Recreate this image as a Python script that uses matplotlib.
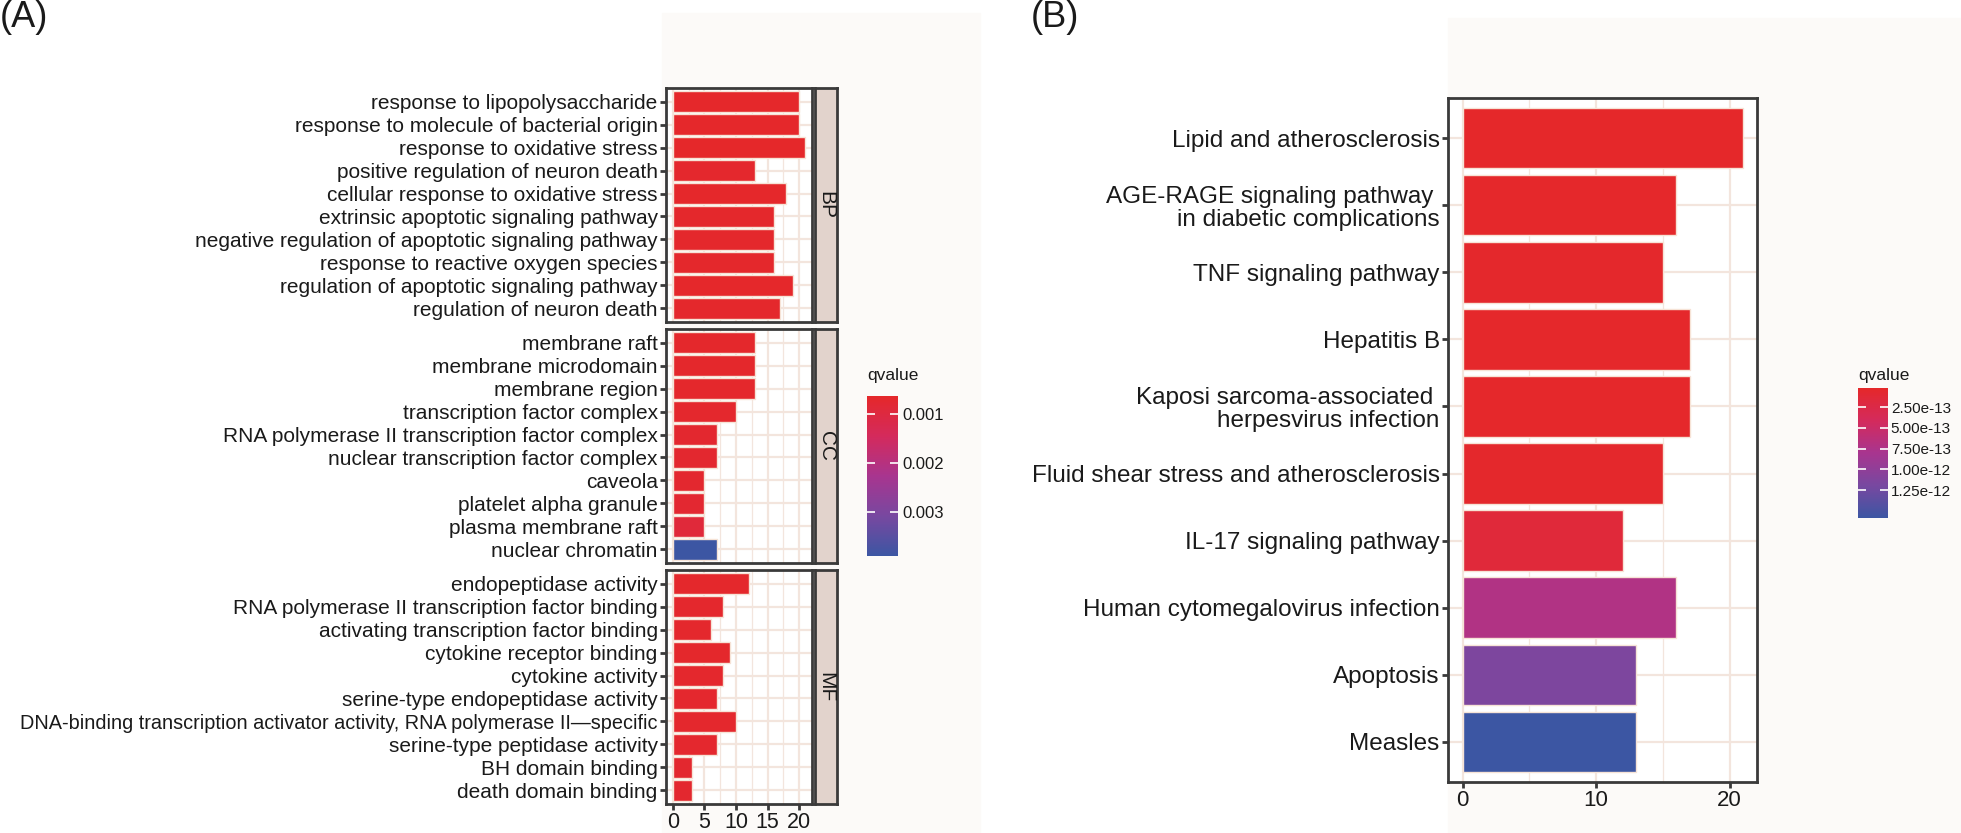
import numpy as np
import matplotlib.pyplot as plt
from matplotlib.colors import LinearSegmentedColormap, Normalize
from matplotlib.cm import ScalarMappable
from matplotlib.patches import Rectangle
from matplotlib.ticker import MultipleLocator

plt.rcParams['font.family'] = ['Liberation Sans', 'DejaVu Sans']

# ---- panel A: GO enrichment ----
bp_terms = ["response to lipopolysaccharide", "response to molecule of bacterial origin",
            "response to oxidative stress", "positive regulation of neuron death",
            "cellular response to oxidative stress", "extrinsic apoptotic signaling pathway",
            "negative regulation of apoptotic signaling pathway", "response to reactive oxygen species",
            "regulation of apoptotic signaling pathway", "regulation of neuron death"]
bp_counts = [20, 20, 21, 13, 18, 16, 16, 16, 19, 17]
bp_q = [0.00066, 0.00066, 0.00065, 0.00070, 0.00066, 0.00068, 0.00068, 0.00068, 0.00066, 0.00067]

cc_terms = ["membrane raft", "membrane microdomain", "membrane region",
            "transcription factor complex", "RNA polymerase II transcription factor complex",
            "nuclear transcription factor complex", "caveola", "platelet alpha granule",
            "plasma membrane raft", "nuclear chromatin"]
cc_counts = [13, 13, 13, 10, 7, 7, 5, 5, 5, 7]
cc_q = [0.00068, 0.00068, 0.00068, 0.00070, 0.00072, 0.00072, 0.00074, 0.00076, 0.00090, 0.00390]

mf_terms = ["endopeptidase activity", "RNA polymerase II transcription factor binding",
            "activating transcription factor binding", "cytokine receptor binding",
            "cytokine activity", "serine-type endopeptidase activity",
            "DNA-binding transcription activator activity, RNA polymerase II\u2014specific",
            "serine-type peptidase activity", "BH domain binding", "death domain binding"]
mf_counts = [12, 8, 6, 9, 8, 7, 10, 7, 3, 3]
mf_q = [0.00068, 0.00070, 0.00070, 0.00069, 0.00070, 0.00071, 0.00070, 0.00071, 0.00074, 0.00074]

facets = ["BP", "CC", "MF"]
qa_min, qa_max = 0.00064, 0.0039
qa_ticks = [0.001, 0.002, 0.003]

# ---- panel B: KEGG enrichment ----
kegg_terms = ["Lipid and atherosclerosis", "AGE-RAGE signaling pathway \nin diabetic complications",
              "TNF signaling pathway", "Hepatitis B",
              "Kaposi sarcoma-associated \nherpesvirus infection",
              "Fluid shear stress and atherosclerosis", "IL-17 signaling pathway",
              "Human cytomegalovirus infection", "Apoptosis", "Measles"]
kegg_counts = [21, 16, 15, 17, 17, 15, 12, 16, 13, 13]
kegg_q = [2e-14, 3e-14, 4e-14, 3e-14, 3e-14, 4e-14, 1.45e-13, 7.2e-13, 1.15e-12, 1.585e-12]
qb_min, qb_max = 2e-14, 1.585e-12
qb_ticks = [2.5e-13, 5.0e-13, 7.5e-13, 1.0e-12, 1.25e-12]
qb_labels = ["2.50e-13", "5.00e-13", "7.50e-13", "1.00e-12", "1.25e-12"]

cmap = LinearSegmentedColormap.from_list(
    "qv", ["#E5282A", "#D42A5C", "#A8358F", "#7848A0", "#3C56A3"])

fw, fh = 1961, 833
fig = plt.figure(figsize=(fw / 100, fh / 100), dpi=100)


def box(l, t, r, b):
    return [l / fw, 1 - b / fh, (r - l) / fw, (b - t) / fh]


# faint backdrops
fig.patches.append(Rectangle((662 / fw, 1 - 833 / fh), 318 / fw, 820 / fh,
                             transform=fig.transFigure, color="#FCFAF8", zorder=-5))
fig.patches.append(Rectangle((1448 / fw, 1 - 833 / fh), 513 / fw, 815 / fh,
                             transform=fig.transFigure, color="#FCFAF8", zorder=-5))

grid_col = "#F3E5DD"
spine_col = "#3a3a3a"
edge_col = "#F6E3D6"


def style_axes(ax):
    ax.set_facecolor("white")
    for s in ax.spines.values():
        s.set_color(spine_col)
        s.set_linewidth(2)
    ax.grid(True, which="major", color=grid_col, lw=1.6, zorder=0)
    ax.grid(True, which="minor", axis="x", color=grid_col, lw=0.9, zorder=0)
    ax.set_axisbelow(True)
    ax.tick_params(axis="y", length=4, width=2, color=spine_col, labelcolor="#1a1a1a", pad=2)
    ax.tick_params(axis="x", length=4, width=2, color=spine_col, labelcolor="#1a1a1a", pad=2)
    ax.tick_params(which="minor", length=0)


norm_a = Normalize(qa_min, qa_max)
xmax_a = max(bp_counts + cc_counts + mf_counts) * 1.05
panels = [(bp_terms, bp_counts, bp_q), (cc_terms, cc_counts, cc_q), (mf_terms, mf_counts, mf_q)]
tops = [(88, 322), (329, 563), (570, 804)]
for k, (terms, counts, qs) in enumerate(panels):
    t, b = tops[k]
    ax = fig.add_axes(box(666, t, 812, b))
    n = len(terms)
    y = np.arange(n)[::-1]
    ax.barh(y, counts, height=0.9, color=cmap(norm_a(np.array(qs))),
            edgecolor=edge_col, linewidth=1, zorder=2)
    ax.set_ylim(-0.6, n - 0.4)
    ax.set_xlim(-xmax_a * 0.05, xmax_a)
    ax.set_yticks(y)
    ax.set_yticklabels(terms, fontsize=15)
    # the very long MF term only just fits on the left edge
    for lab in ax.get_yticklabels():
        if len(lab.get_text()) > 60:
            lab.set_fontsize(14.3)
    ax.xaxis.set_major_locator(MultipleLocator(5))
    ax.xaxis.set_minor_locator(MultipleLocator(2.5))
    style_axes(ax)
    if k < 2:
        ax.tick_params(axis="x", length=0, labelbottom=False)
    else:
        ax.tick_params(axis="x", labelsize=15.5)
    sax = fig.add_axes(box(815, t, 837, b))
    sax.set_facecolor("#E2D3CC")
    sax.set_xticks([])
    sax.set_yticks([])
    for s in sax.spines.values():
        s.set_color(spine_col)
        s.set_linewidth(2)
    sax.text(0.5, 0.5, facets[k], rotation=270, ha="center", va="center",
             fontsize=15, color="#1a1a1a", transform=sax.transAxes)

cax_a = fig.add_axes(box(867, 396, 898, 556))
cb = fig.colorbar(ScalarMappable(norm_a, cmap), cax=cax_a, ticks=qa_ticks)
cb.outline.set_visible(False)
cax_a.invert_yaxis()
cax_a.set_yticklabels(["0.001", "0.002", "0.003"])
cax_a.tick_params(direction="in", color="white", length=6, width=1.2, labelsize=12,
                  left=True, right=True, labelcolor="#1a1a1a")
fig.text(867 / fw, 1 - 375 / fh, "qvalue", fontsize=12.5, va="center", ha="left", color="#1a1a1a")

# panel B
norm_b = Normalize(qb_min, qb_max)
axb = fig.add_axes(box(1448, 98, 1757, 782))
nb = len(kegg_terms)
yb = np.arange(nb)[::-1]
axb.barh(yb, kegg_counts, height=0.9, color=cmap(norm_b(np.array(kegg_q))),
         edgecolor=edge_col, linewidth=1, zorder=2)
xmax_b = max(kegg_counts) * 1.05
axb.set_xlim(-xmax_b * 0.05, xmax_b)
axb.set_ylim(-0.6, nb - 0.4)
axb.set_yticks(yb)
axb.set_yticklabels(kegg_terms, fontsize=17.5, multialignment="right", linespacing=1.05)
axb.xaxis.set_major_locator(MultipleLocator(10))
axb.xaxis.set_minor_locator(MultipleLocator(5))
style_axes(axb)
axb.tick_params(axis="x", labelsize=16)

cax_b = fig.add_axes(box(1858, 388, 1888, 518))
cb2 = fig.colorbar(ScalarMappable(norm_b, cmap), cax=cax_b, ticks=qb_ticks)
cb2.outline.set_visible(False)
cax_b.invert_yaxis()
cax_b.set_yticklabels(qb_labels)
cax_b.tick_params(direction="in", color="white", length=6, width=1.2, labelsize=11,
                  left=True, right=True, labelcolor="#1a1a1a", pad=2)
fig.text(1858 / fw, 1 - 375 / fh, "qvalue", fontsize=12.5, va="center", ha="left", color="#1a1a1a")

fig.text(0.0, 1.0, "(A)", fontsize=26, va="top", ha="left", color="#1a1a1a")
fig.text(1031 / fw, 1.0, "(B)", fontsize=26, va="top", ha="left", color="#1a1a1a")

fig.savefig("out.png", dpi=100)
